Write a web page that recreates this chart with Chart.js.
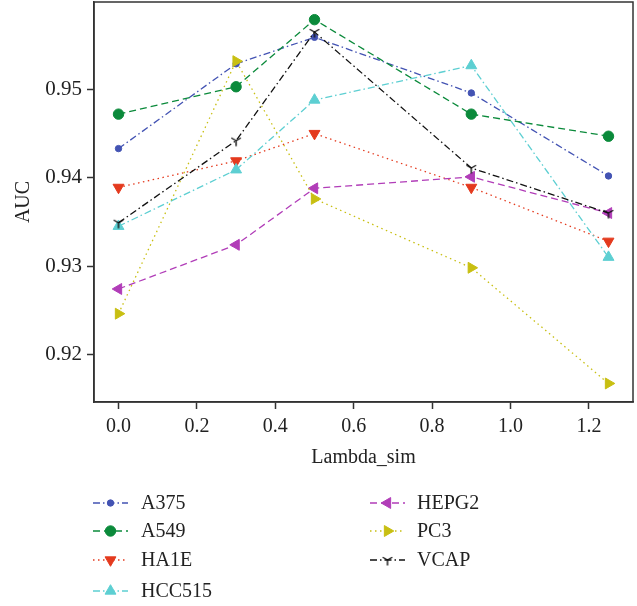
<!DOCTYPE html>
<html>
<head>
<meta charset="utf-8">
<script src="https://cdn.jsdelivr.net/npm/chart.js@4.4.1/dist/chart.umd.min.js"></script>
<style>
html,body{margin:0;padding:0;background:#fff;}
#wrap{width:637px;height:606px;position:relative;}
</style>
</head>
<body>
<div id="wrap"><canvas id="c" width="637" height="606"></canvas></div>
<script>
// ---- data ----
const lambdaSim = [0.0, 0.3, 0.5, 0.9, 1.25];
const seriesNames = ["A375", "A549", "HA1E", "HCC515", "HEPG2", "PC3", "VCAP"];
const A375   = [0.9433, 0.9529, 0.9559, 0.9496, 0.9402];
const A549   = [0.9472, 0.9503, 0.9579, 0.9472, 0.9447];
const HA1E   = [0.9389, 0.9419, 0.9450, 0.9389, 0.9328];
const HCC515 = [0.9345, 0.9409, 0.9488, 0.9527, 0.9310];
const HEPG2  = [0.9274, 0.9324, 0.9388, 0.9401, 0.9360];
const PC3    = [0.9246, 0.9532, 0.9376, 0.9298, 0.9167];
const VCAP   = [0.9349, 0.9442, 0.9565, 0.9411, 0.9360];
const xTicks = [0.0, 0.2, 0.4, 0.6, 0.8, 1.0, 1.2];
const yTicks = [0.92, 0.93, 0.94, 0.95];

// ---- styles ----
const FONT = "'Liberation Serif', 'DejaVu Serif', serif";
const DASHED = [7, 4];
const DASHDOT = [7, 3, 1.5, 3];
const DOTTED = [1.5, 3.5];

function makeTriDown(color) {
  const c = document.createElement('canvas');
  c.width = 14; c.height = 14;
  const g = c.getContext('2d');
  g.strokeStyle = color; g.lineWidth = 1.4;
  const cx = 7, cy = 7, L = 5.5;
  g.beginPath();
  g.moveTo(cx, cy); g.lineTo(cx, cy + L);
  g.moveTo(cx, cy); g.lineTo(cx - L * 0.866, cy - L * 0.5);
  g.moveTo(cx, cy); g.lineTo(cx + L * 0.866, cy - L * 0.5);
  g.stroke();
  return c;
}

const styles = [
  {color: '#4353b3', dash: DASHDOT, pointStyle: 'circle', radius: 3.2, rotation: 0},
  {color: '#0b8a3b', dash: DASHED, pointStyle: 'circle', radius: 5.2, rotation: 0},
  {color: '#e43a1e', dash: DOTTED, pointStyle: 'triangle', radius: 6.3, rotation: 180},
  {color: '#5dcfd2', dash: DASHDOT, pointStyle: 'triangle', radius: 6.3, rotation: 0},
  {color: '#b13db8', dash: DASHED, pointStyle: 'triangle', radius: 6.3, rotation: 270},
  {color: '#c8bf12', dash: DOTTED, pointStyle: 'triangle', radius: 6.3, rotation: 90},
  {color: '#111111', dash: DASHDOT, pointStyle: makeTriDown('#111111'), radius: 6, rotation: 0}
];

const allValues = [A375, A549, HA1E, HCC515, HEPG2, PC3, VCAP];
const n = seriesNames.length;
const datasets = seriesNames.map((name, i) => ({
  label: name,
  data: lambdaSim.map((x, j) => ({x: x, y: allValues[i][j]})),
  borderColor: styles[i].color,
  backgroundColor: styles[i].color,
  borderWidth: 1.3,
  borderDash: styles[i].dash,
  pointStyle: styles[i].pointStyle,
  pointRadius: styles[i].radius,
  pointRotation: styles[i].rotation,
  pointBorderWidth: 1,
  pointBorderColor: styles[i].color,
  pointBackgroundColor: styles[i].color,
  pointHoverRadius: styles[i].radius,
  tension: 0,
  fill: false,
  order: n - i
}));

const boxPlugin = {
  id: 'box',
  afterDraw(chart) {
    const {ctx, chartArea: a} = chart;
    ctx.save();
    ctx.strokeStyle = '#333';
    ctx.lineWidth = 1.5;
    ctx.strokeRect(a.left, a.top, a.right - a.left, a.bottom - a.top);
    ctx.restore();
  }
};

const legendPlugin = {
  id: 'customLegend',
  afterDraw(chart) {
    const ctx = chart.ctx;
    const cols = [{x0: 93, x1: 128, tx: 141}, {x0: 370, x1: 405, tx: 417}];
    const rows = [503, 531, 560, 591];
    ctx.save();
    chart.data.datasets.forEach((ds, i) => {
      const col = i < 4 ? cols[0] : cols[1];
      const y = i < 4 ? rows[i] : rows[i - 4];
      ctx.save();
      ctx.strokeStyle = ds.borderColor;
      ctx.lineWidth = ds.borderWidth;
      ctx.setLineDash(ds.borderDash);
      ctx.beginPath();
      ctx.moveTo(col.x0, y);
      ctx.lineTo(col.x1, y);
      ctx.stroke();
      ctx.setLineDash([]);
      ctx.fillStyle = ds.pointBackgroundColor;
      ctx.strokeStyle = ds.pointBorderColor;
      ctx.lineWidth = ds.pointBorderWidth;
      Chart.helpers.drawPoint(ctx, {
        pointStyle: ds.pointStyle,
        radius: ds.pointRadius,
        rotation: ds.pointRotation,
        borderWidth: ds.pointBorderWidth
      }, (col.x0 + col.x1) / 2, y);
      ctx.restore();
      ctx.fillStyle = '#222';
      ctx.font = '20px ' + FONT;
      ctx.textAlign = 'left';
      ctx.textBaseline = 'middle';
      ctx.fillText(ds.label, col.tx, y + 1);
    });
    ctx.restore();
  }
};

new Chart(document.getElementById('c'), {
  type: 'line',
  data: {datasets: datasets},
  plugins: [boxPlugin, legendPlugin],
  options: {
    responsive: false,
    animation: false,
    events: [],
    layout: {autoPadding: false, padding: {left: 0, right: 4, top: 2, bottom: 136}},
    plugins: {legend: {display: false}, tooltip: {enabled: false}},
    scales: {
      x: {
        type: 'linear',
        min: -0.0625,
        max: 1.3125,
        afterBuildTicks: (s) => { s.ticks = xTicks.map(v => ({value: v})); },
        afterFit: (s) => { s.height = 68; s.paddingLeft = 0; s.paddingRight = 0; },
        ticks: {
          color: '#222',
          font: {family: FONT, size: 20},
          padding: 6,
          maxRotation: 0,
          autoSkip: false,
          callback: (v) => v.toFixed(1)
        },
        grid: {display: true, drawOnChartArea: false, drawTicks: true, tickLength: 7, tickColor: '#333', tickWidth: 1.5},
        border: {display: true, color: '#333', width: 1.5},
        title: {display: true, text: 'Lambda_sim', color: '#222', font: {family: FONT, size: 20}, padding: {top: 0, bottom: 0}}
      },
      y: {
        type: 'linear',
        min: 0.9146,
        max: 0.9599,
        afterBuildTicks: (s) => { s.ticks = yTicks.map(v => ({value: v})); },
        afterFit: (s) => { s.width = 94; s.paddingTop = 0; s.paddingBottom = 0; },
        ticks: {
          color: '#222',
          font: {family: FONT, size: 21},
          padding: 5,
          autoSkip: false,
          callback: (v) => v.toFixed(2)
        },
        grid: {display: true, drawOnChartArea: false, drawTicks: true, tickLength: 7, tickColor: '#333', tickWidth: 1.5},
        border: {display: true, color: '#333', width: 1.5},
        title: {display: true, text: 'AUC', color: '#222', font: {family: FONT, size: 20}, padding: {top: 12, bottom: 0}}
      }
    }
  }
});
</script>
</body>
</html>
